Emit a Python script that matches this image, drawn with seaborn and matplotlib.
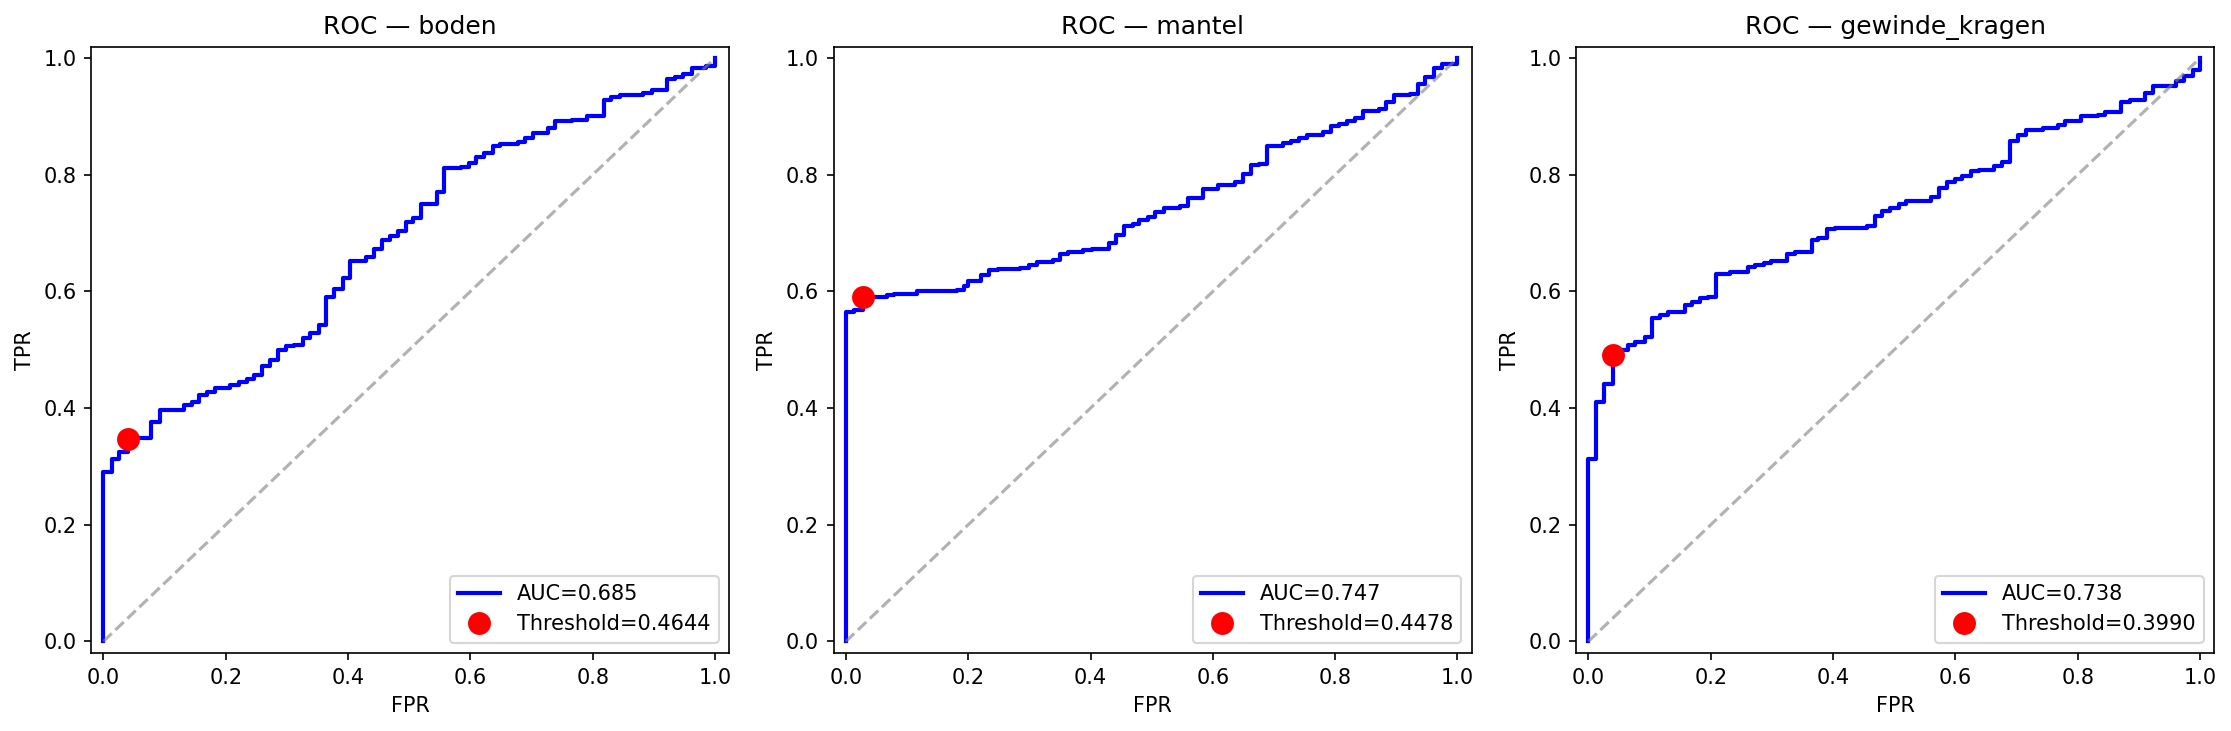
import matplotlib.pyplot as plt
import numpy as np
import pandas as pd
import seaborn as sns

# ROC values (fpr where the step happens, tpr after the step)
boden_fpr = [0.0, 0.0, 0.0135, 0.026, 0.040, 0.078, 0.092, 0.132, 0.145, 0.157, 0.170, 0.182,
             0.207, 0.221, 0.234, 0.246, 0.260, 0.273, 0.285, 0.299, 0.312, 0.326, 0.338,
             0.352, 0.364, 0.377, 0.391, 0.403, 0.430, 0.442, 0.455, 0.469, 0.481, 0.494,
             0.506, 0.520, 0.545, 0.557, 0.585, 0.598, 0.610, 0.623, 0.637, 0.649, 0.678,
             0.690, 0.702, 0.727, 0.739, 0.766, 0.791, 0.818, 0.830, 0.844, 0.883, 0.897,
             0.922, 0.935, 0.948, 0.962, 0.986, 1.0]
boden_tpr = [0.0, 0.291, 0.312, 0.325, 0.348, 0.377, 0.397, 0.405, 0.410, 0.423, 0.428, 0.434,
             0.439, 0.444, 0.450, 0.457, 0.472, 0.483, 0.500, 0.506, 0.509, 0.520, 0.529,
             0.542, 0.591, 0.604, 0.623, 0.652, 0.659, 0.672, 0.689, 0.695, 0.704, 0.719,
             0.726, 0.750, 0.770, 0.811, 0.813, 0.820, 0.831, 0.838, 0.850, 0.853, 0.856,
             0.863, 0.871, 0.880, 0.892, 0.894, 0.900, 0.928, 0.934, 0.936, 0.941, 0.945,
             0.965, 0.968, 0.972, 0.983, 0.986, 1.0]

mantel_fpr = [0.0, 0.0, 0.014, 0.028, 0.067, 0.079, 0.116, 0.182, 0.193, 0.200, 0.221, 0.234,
              0.248, 0.285, 0.299, 0.312, 0.338, 0.350, 0.363, 0.387, 0.402, 0.430, 0.441,
              0.455, 0.469, 0.479, 0.494, 0.506, 0.520, 0.547, 0.560, 0.584, 0.609, 0.637,
              0.649, 0.662, 0.676, 0.688, 0.715, 0.727, 0.741, 0.754, 0.780, 0.793, 0.807,
              0.819, 0.832, 0.846, 0.871, 0.883, 0.896, 0.922, 0.935, 0.947, 0.961, 0.975, 1.0]
mantel_tpr = [0.0, 0.564, 0.569, 0.591, 0.594, 0.596, 0.601, 0.603, 0.610, 0.618, 0.629, 0.636,
              0.639, 0.641, 0.645, 0.650, 0.654, 0.665, 0.668, 0.671, 0.673, 0.683, 0.697,
              0.712, 0.715, 0.723, 0.728, 0.737, 0.743, 0.746, 0.760, 0.775, 0.782, 0.788,
              0.802, 0.816, 0.819, 0.850, 0.854, 0.858, 0.863, 0.868, 0.874, 0.883, 0.887,
              0.892, 0.897, 0.910, 0.913, 0.925, 0.936, 0.939, 0.955, 0.968, 0.983, 0.990, 1.0]

gewinde_fpr = [0.0, 0.0, 0.013, 0.026, 0.040, 0.064, 0.077, 0.092, 0.104, 0.117, 0.130, 0.158,
               0.170, 0.183, 0.195, 0.209, 0.232, 0.261, 0.272, 0.287, 0.298, 0.325, 0.338,
               0.365, 0.376, 0.390, 0.403, 0.456, 0.469, 0.480, 0.493, 0.508, 0.520, 0.560,
               0.573, 0.586, 0.600, 0.611, 0.626, 0.639, 0.664, 0.677, 0.690, 0.702, 0.716,
               0.743, 0.768, 0.780, 0.806, 0.834, 0.845, 0.871, 0.885, 0.910, 0.923, 0.961,
               0.974, 0.989, 1.0]
gewinde_tpr = [0.0, 0.313, 0.410, 0.442, 0.499, 0.509, 0.514, 0.522, 0.554, 0.559, 0.564, 0.576,
               0.582, 0.589, 0.591, 0.630, 0.634, 0.642, 0.646, 0.649, 0.652, 0.665, 0.668,
               0.689, 0.692, 0.707, 0.708, 0.712, 0.730, 0.738, 0.743, 0.750, 0.755, 0.762,
               0.777, 0.788, 0.793, 0.798, 0.806, 0.809, 0.815, 0.822, 0.858, 0.868, 0.876,
               0.880, 0.885, 0.892, 0.900, 0.902, 0.907, 0.925, 0.929, 0.941, 0.953, 0.961,
               0.970, 0.979, 1.0]

parts = ['boden', 'mantel', 'gewinde_kragen']
aucs = [0.685, 0.747, 0.738]
thresholds = [0.4644, 0.4478, 0.3990]
best_fpr = [0.040, 0.028, 0.040]
best_tpr = [0.347, 0.591, 0.491]

curves = [(boden_fpr, boden_tpr), (mantel_fpr, mantel_tpr), (gewinde_fpr, gewinde_tpr)]

fig, axes = plt.subplots(1, 3, figsize=(15, 5))

for i, ax in enumerate(axes):
    fpr, tpr = curves[i]
    roc_df = pd.DataFrame({'fpr': fpr, 'tpr': tpr})
    sns.lineplot(data=roc_df, x='fpr', y='tpr', ax=ax, sort=False, estimator=None,
                 drawstyle='steps-post', color='blue', linewidth=2,
                 label=f'AUC={aucs[i]:.3f}')
    ax.plot([0, 1], [0, 1], linestyle='--', color='gray', alpha=0.6)
    ax.plot(best_fpr[i], best_tpr[i], 'o', color='red', markersize=10,
            label=f'Threshold={thresholds[i]:.4f}')
    ax.set_xlim(-0.02, 1.023)
    ax.set_ylim(-0.02, 1.02)
    ax.set_title(f'ROC \u2014 {parts[i]}')
    ax.set_xlabel('FPR')
    ax.set_ylabel('TPR')
    ax.legend(loc='lower right')

plt.tight_layout()
plt.savefig('out.png', dpi=150, bbox_inches='tight')
